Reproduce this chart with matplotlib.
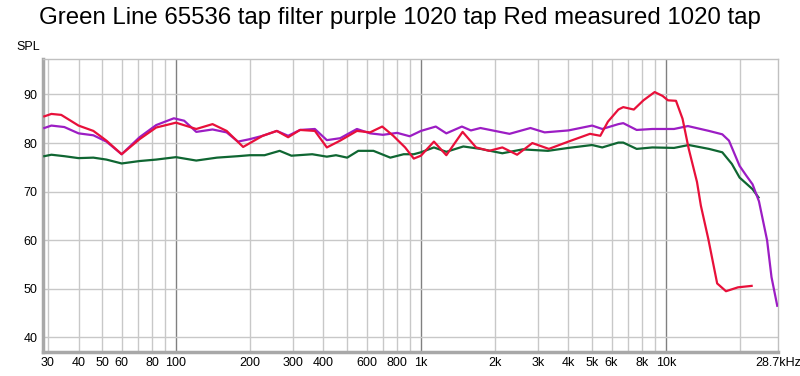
import numpy as np
import matplotlib
matplotlib.use("Agg")
import matplotlib.pyplot as plt

plt.rcParams['font.family'] = ['Liberation Sans', 'DejaVu Sans']

green_f = [29, 31, 35, 40, 46, 52, 60, 71, 83, 100, 121, 147, 179, 200, 230, 265,
           296, 360, 413, 450, 500, 555, 640, 750, 850, 935, 1000, 1130, 1270, 1490,
           1750, 2150, 2600, 3300, 4000, 5000, 5500, 6400, 6700, 7600, 8800, 10800,
           12400, 15000, 17000, 18600, 20000, 22600, 23900]
green_db = [77.3, 77.6, 77.3, 76.9, 77.0, 76.6, 75.8, 76.3, 76.6, 77.1, 76.4, 77.0,
            77.3, 77.5, 77.5, 78.4, 77.4, 77.7, 77.2, 77.5, 77.0, 78.4, 78.4, 77.0,
            77.7, 77.7, 78.1, 79.1, 78.2, 79.3, 78.8, 77.9, 78.7, 78.4, 79.0, 79.6,
            79.1, 80.1, 80.1, 78.8, 79.1, 79.0, 79.6, 78.8, 78.1, 75.7, 72.9, 70.5, 68.8]

purple_f = [29, 31, 35, 40, 46, 52, 60, 71, 83, 98, 108, 121, 141, 161, 179, 200,
            226, 258, 287, 321, 369, 413, 468, 548, 620, 700, 800, 900, 1000, 1150,
            1270, 1470, 1600, 1750, 2300, 2800, 3200, 4000, 5000, 5500, 6400, 6700,
            7600, 8800, 10800, 12300, 15000, 17000, 18100, 20000, 21300, 22600,
            24000, 25900, 27000, 28500]
purple_db = [83.1, 83.6, 83.3, 82.0, 81.6, 80.3, 77.7, 81.2, 83.7, 85.1, 84.6, 82.3,
             82.8, 82.2, 80.3, 80.8, 81.5, 82.5, 81.5, 82.7, 82.9, 80.6, 81.0, 82.9,
             82.0, 81.7, 82.1, 81.4, 82.5, 83.4, 82.0, 83.4, 82.6, 83.1, 81.9, 83.1,
             82.2, 82.6, 83.6, 82.9, 83.9, 84.1, 82.7, 82.9, 82.9, 83.5, 82.5, 81.8,
             80.5, 75.3, 73.3, 71.5, 68.0, 60.0, 52.4, 46.5]

red_f = [29, 31, 34, 40, 46, 52, 60, 71, 83, 100, 121, 141, 161, 188, 226, 258, 287,
         321, 369, 413, 468, 548, 620, 695, 771, 862, 935, 1000, 1130, 1270, 1480,
         1680, 1900, 2150, 2470, 2850, 3330, 4000, 4900, 5400, 5800, 6400, 6700,
         7400, 8100, 9000, 9700, 10200, 11000, 11700, 12400, 13400, 13900, 14900,
         16200, 17600, 19700, 22400]
red_db = [85.5, 86.0, 85.8, 83.6, 82.5, 80.5, 77.7, 80.8, 83.2, 84.2, 82.9, 83.9,
          82.5, 79.2, 81.5, 82.5, 81.2, 82.7, 82.5, 79.1, 80.5, 82.5, 82.2, 83.4,
          81.5, 79.1, 76.8, 77.4, 80.3, 77.5, 82.3, 79.1, 78.4, 79.1, 77.6, 80.0,
          78.8, 80.3, 81.9, 81.5, 84.4, 86.9, 87.4, 86.9, 88.8, 90.5, 89.7, 88.8,
          88.7, 85.0, 78.8, 72.0, 67.1, 60.3, 51.1, 49.5, 50.3, 50.6]

x_ticks = [30, 40, 50, 60, 80, 100, 200, 300, 400, 600, 800, 1000, 2000, 3000,
           4000, 5000, 6000, 8000, 10000, 28700]
x_labels = ["30", "40", "50", "60", "80", "100", "200", "300", "400", "600", "800",
            "1k", "2k", "3k", "4k", "5k", "6k", "8k", "10k", "28.7kHz"]
y_ticks = [40, 50, 60, 70, 80, 90]

fig = plt.figure(figsize=(8, 3.76), dpi=100)
ax = fig.add_axes([0.054, 0.064, 0.9185, 0.779])

# grid
minor_lines = [f for d in (10, 100, 1000) for f in range(3 * d, 10 * d, d)]
minor_lines += list(range(200, 1000, 100)) + list(range(2000, 10000, 1000)) + [20000]
for f in sorted(set(minor_lines)):
    if f >= 30:
        ax.axvline(f, color="#c8c8c8", lw=1, zorder=0)
for f in (100, 1000, 10000):
    ax.axvline(f, color="#808080", lw=1, zorder=0)
for y in y_ticks:
    ax.axhline(y, color="#c8c8c8", lw=1, zorder=0)

ax.plot(green_f, green_db, color="#0f6632", lw=1.6, zorder=3)
ax.plot(purple_f, purple_db, color="#9c1dc4", lw=1.6, zorder=3)
ax.plot(red_f, red_db, color="#e8103a", lw=1.6, zorder=4)

ax.set_xscale("log")
ax.set_xlim(28.7, 28700)
ax.set_ylim(37, 97.3)
ax.set_xticks(x_ticks)
ax.set_xticklabels(x_labels)
ax.minorticks_off()
ax.set_yticks(y_ticks)
ax.tick_params(length=0, labelsize=9, pad=4)

for s in ("top", "right"):
    ax.spines[s].set_color("#c0c0c0")
    ax.spines[s].set_linewidth(1)
for s in ("left", "bottom"):
    ax.spines[s].set_color("#a8a8a8")
    ax.spines[s].set_linewidth(2.5)

fig.text(0.5, 0.952, "Green Line 65536 tap filter purple 1020 tap Red measured 1020 tap",
         ha="center", va="center", fontsize=17.3)
fig.text(0.021, 0.875, "SPL", ha="left", va="center", fontsize=9)

fig.savefig("out.png", dpi=100)
